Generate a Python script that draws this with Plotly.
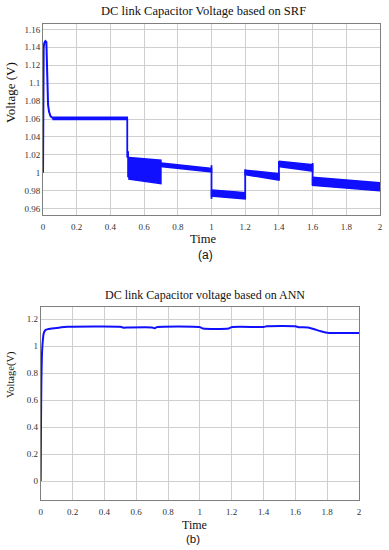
import plotly.graph_objects as go

W, H = 389, 550

# ---------------- Data: (a) SRF ----------------
# start-up transient
srf_t_start = [0, 0.001, 0.004, 0.008, 0.014, 0.020, 0.023, 0.026, 0.030, 0.036, 0.045, 0.060]
srf_v_start = [1.000, 1.100, 1.140, 1.145, 1.147, 1.146, 1.120, 1.090, 1.076, 1.068, 1.063, 1.061]

# ripple bands (envelopes) per operating interval
band_t0 = [0.060, 0.510, 0.700, 1.000, 1.200, 1.400, 1.600]
band_t1 = [0.500, 0.700, 1.000, 1.200, 1.400, 1.600, 2.000]
band_up0 = [1.0620, 1.0172, 1.0110, 0.9810, 1.0030, 1.0130, 0.9950]
band_up1 = [1.0620, 1.0140, 1.0050, 0.9780, 0.9990, 1.0090, 0.9890]
band_lo0 = [1.0595, 0.9930, 1.0070, 0.9740, 0.9980, 1.0070, 0.9860]
band_lo1 = [1.0595, 0.9880, 1.0010, 0.9710, 0.9920, 1.0020, 0.9800]

# switching instants: vertical excursions
sw_t = [0.500, 0.505, 1.000, 1.200, 1.400, 1.600]
sw_hi = [1.061, 1.024, 1.0086, 1.004, 1.013, 1.011]
sw_lo = [1.017, 0.995, 0.971, 0.971, 0.992, 0.986]

srf_yticks = [0.96, 0.98, 1.00, 1.02, 1.04, 1.06, 1.08, 1.10, 1.12, 1.14, 1.16]
srf_ytext = ["0.96", "0.98", "1", "1.02", "1.04", "1.06", "1.08", "1.1", "1.12", "1.14", "1.16"]

# ---------------- Data: (b) ANN ----------------
ann_t = [0, 0.002, 0.004, 0.007, 0.010, 0.014, 0.018, 0.024, 0.032, 0.045, 0.065, 0.10,
         0.13, 0.17, 0.50, 0.52, 0.55, 0.70, 0.715, 0.73, 1.00, 1.02, 1.18, 1.20,
         1.40, 1.42, 1.60, 1.62, 1.68, 1.72, 1.76, 1.80, 2.00]
ann_v = [0.0, 0.45, 0.72, 0.90, 0.99, 1.05, 1.09, 1.11, 1.12, 1.126, 1.130, 1.135,
         1.140, 1.143, 1.143, 1.137, 1.138, 1.138, 1.132, 1.141, 1.141, 1.130, 1.130, 1.141,
         1.142, 1.147, 1.147, 1.140, 1.138, 1.125, 1.110, 1.100, 1.098]

ann_yticks = [0, 0.2, 0.4, 0.6, 0.8, 1.0, 1.2]
ann_ytext = ["0", "0.2", "0.4", "0.6", "0.8", "1", "1.2"]

x_ticks = [0, 0.2, 0.4, 0.6, 0.8, 1.0, 1.2, 1.4, 1.6, 1.8, 2.0]
x_text = ["0", "0.2", "0.4", "0.6", "0.8", "1", "1.2", "1.4", "1.6", "1.8", "2"]

# ---------------- Figure ----------------
BLUE = "#1010ff"
fig = go.Figure()

# SRF bands
for i in range(len(band_t0)):
    fig.add_trace(go.Scatter(
        x=[band_t0[i], band_t1[i], band_t1[i], band_t0[i], band_t0[i]],
        y=[band_up0[i], band_up1[i], band_lo1[i], band_lo0[i], band_up0[i]],
        mode="lines", fill="toself", fillcolor=BLUE,
        line=dict(color=BLUE, width=1.5), xaxis="x", yaxis="y",
        showlegend=False, hoverinfo="skip"))

# switching excursions
sx, sy = [], []
for t, hi, lo in zip(sw_t, sw_hi, sw_lo):
    sx += [t, t, None]
    sy += [hi, lo, None]
fig.add_trace(go.Scatter(x=sx, y=sy, mode="lines", line=dict(color=BLUE, width=1.8),
                         xaxis="x", yaxis="y", showlegend=False))

# start-up transient
fig.add_trace(go.Scatter(x=srf_t_start, y=srf_v_start, mode="lines",
                         line=dict(color=BLUE, width=2), xaxis="x", yaxis="y",
                         showlegend=False))

# ANN line
fig.add_trace(go.Scatter(x=ann_t, y=ann_v, mode="lines",
                         line=dict(color=BLUE, width=2, shape="spline", smoothing=0.6),
                         xaxis="x2", yaxis="y2", showlegend=False))


def px(x):
    return x / W


def py(y):
    return 1 - y / H


tickfont = dict(family="Liberation Serif, Times New Roman, serif", size=9, color="#333333")
axis_common = dict(showline=True, mirror=True, linecolor="#7f7f7f", linewidth=1,
                   showgrid=True, gridcolor="#cfcfcf", gridwidth=1, zeroline=False,
                   ticks="", tickfont=tickfont, automargin=False)

fig.update_layout(
    width=W, height=H,
    margin=dict(l=0, r=0, t=0, b=0),
    paper_bgcolor="white", plot_bgcolor="white",
    xaxis=dict(domain=[px(43), px(380)], range=[0, 2], tickvals=x_ticks, ticktext=x_text,
               anchor="y", ticklabelstandoff=3, **axis_common),
    yaxis=dict(domain=[py(215), py(24)], range=[0.953, 1.166], tickvals=srf_yticks,
               ticktext=srf_ytext, anchor="x", **axis_common),
    xaxis2=dict(domain=[px(40.7), px(359)], range=[0, 2], tickvals=x_ticks, ticktext=x_text,
                anchor="y2", ticklabelstandoff=3, **axis_common),
    yaxis2=dict(domain=[py(500), py(307)], range=[-0.14, 1.29], tickvals=ann_yticks,
                ticktext=ann_ytext, anchor="x2", **axis_common),
)

serif = "Liberation Serif, Times New Roman, serif"
sans = "Liberation Sans, Arial, sans-serif"


def ann(text, x, y, size, family=serif, angle=0, color="#111111"):
    fig.add_annotation(text=text, x=px(x), y=py(y), xref="paper", yref="paper",
                       showarrow=False, xanchor="center", yanchor="middle",
                       textangle=angle, font=dict(family=family, size=size, color=color))


ann("DC link Capacitor Voltage based on SRF", 203, 11, 12.5)
ann("Voltage (V)", 11, 93, 13, angle=-90)
ann("Time", 203, 239, 12.5)
ann("(a)", 205, 255, 12, family=sans)

ann("DC link Capacitor voltage based on ANN", 205, 295, 12)
ann("Voltage(V)", 11, 375, 10.5, angle=-90)
ann("Time", 194, 525, 12)
ann("(b)", 193, 539, 11.5, family=sans)

fig.write_html("out.html", config={"displayModeBar": False},
               post_script="document.body.style.margin='0';")
